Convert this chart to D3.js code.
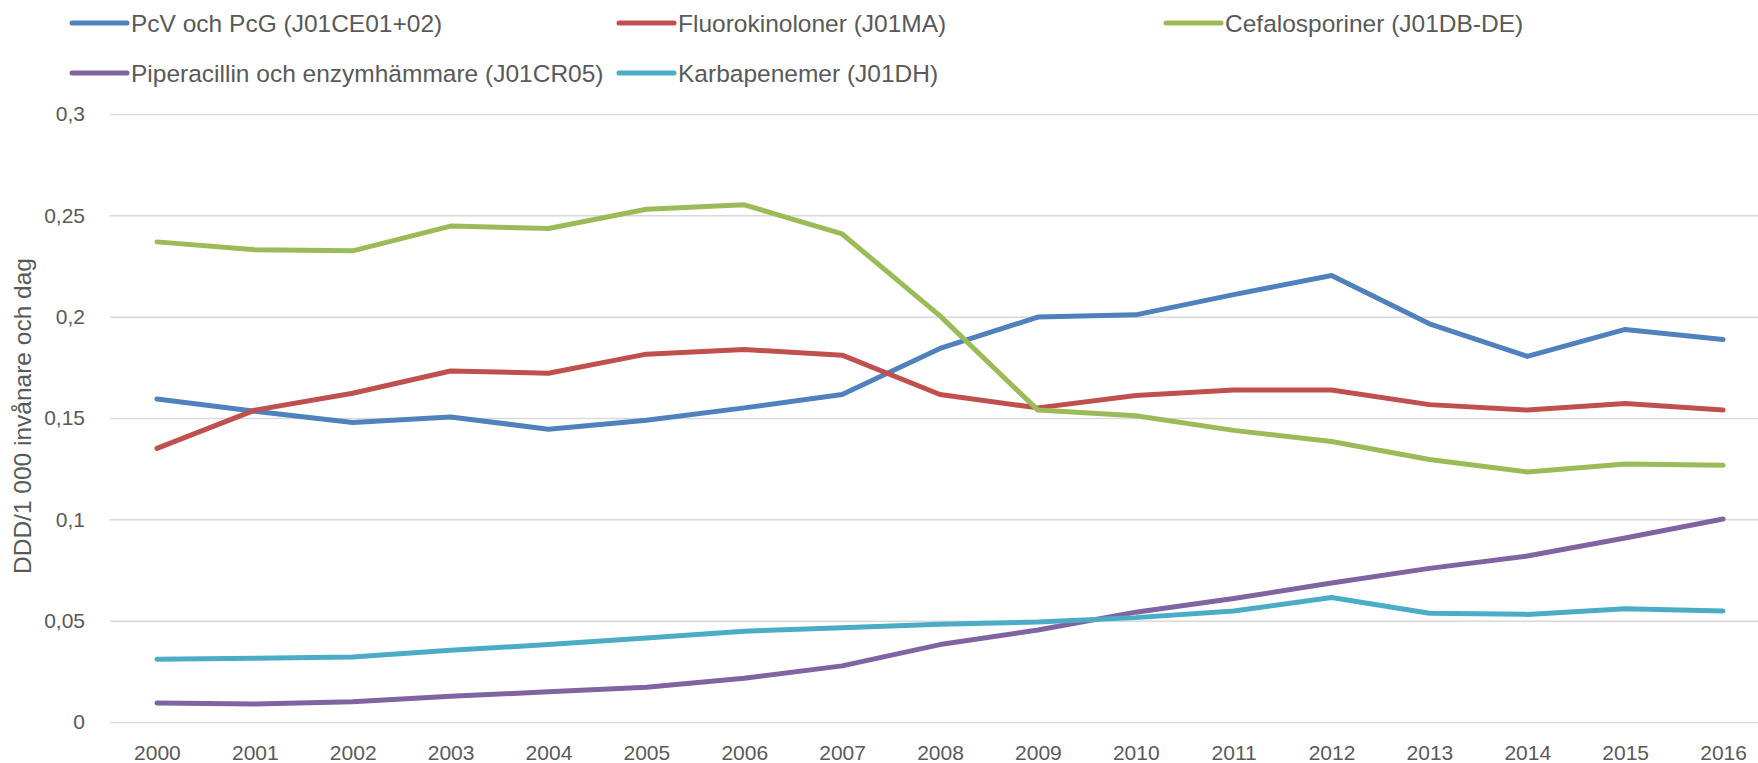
<!DOCTYPE html>
<html>
<head>
<meta charset="utf-8">
<script src="https://cdnjs.cloudflare.com/ajax/libs/d3/7.8.5/d3.min.js"></script>
<style>
  body { margin: 0; background: #fff; }
  svg { display: block; }
</style>
</head>
<body>
<div id="line_chart"></div>
<script>
// data
var years = ["2000","2001","2002","2003","2004","2005","2006","2007","2008","2009","2010","2011","2012","2013","2014","2015","2016"];
var pcv      = [0.1594,0.1533,0.1478,0.1505,0.1445,0.1489,0.1550,0.1616,0.1843,0.1998,0.2009,0.2109,0.2203,0.1965,0.1804,0.1937,0.1887];
var fluoro   = [0.1350,0.1539,0.1622,0.1732,0.1721,0.1815,0.1838,0.1810,0.1616,0.1550,0.1611,0.1638,0.1638,0.1566,0.1539,0.1572,0.1539];
var cefalo   = [0.2369,0.2330,0.2325,0.2447,0.2435,0.2530,0.2552,0.2408,0.2004,0.1539,0.1511,0.1439,0.1384,0.1295,0.1234,0.1273,0.1267];
var pipera   = [0.0094,0.0089,0.0100,0.0127,0.0149,0.0172,0.0216,0.0277,0.0382,0.0454,0.0542,0.0609,0.0686,0.0758,0.0819,0.0908,0.1002];
var karba    = [0.0310,0.0315,0.0321,0.0354,0.0382,0.0415,0.0448,0.0465,0.0482,0.0493,0.0515,0.0548,0.0614,0.0537,0.0531,0.0559,0.0548];
var seriesNames = ["PcV och PcG (J01CE01+02)", "Fluorokinoloner (J01MA)", "Cefalosporiner (J01DB-DE)",
                   "Piperacillin och enzymhämmare (J01CR05)", "Karbapenemer (J01DH)"];
var yTicks = [0, 0.05, 0.1, 0.15, 0.2, 0.25, 0.3];

var colors = ["#4F81BD", "#C0504D", "#9BBB59", "#8064A2", "#4BACC6"];
var allSeries = [pcv, fluoro, cefalo, pipera, karba];

var width = 1758,
    height = 763;

var plotLeft = 108, plotRight = 1772, plotTop = 114, plotBottom = 722;
var textColor = "#595959";
var font = "'Liberation Sans', Arial, sans-serif";

var svLocale = d3.formatLocale({decimal: ",", thousands: " ", grouping: [3], currency: ["", ""]});
var fmt = svLocale.format("~g");

var x = d3.scalePoint().domain(years).range([plotLeft, plotRight]).padding(0.5);
var y = d3.scaleLinear().domain([0, 0.3]).range([plotBottom, plotTop]);

var svg = d3.select('#line_chart')
  .append('svg')
  .attr('width', width)
  .attr('height', height)
  .style('font-family', font);

// gridlines + y labels
var yAxis = d3.axisLeft(y).tickValues(yTicks).tickFormat(fmt)
  .tickSize(-(plotRight - plotLeft)).tickPadding(23);
var gy = svg.append('g')
  .attr('transform', 'translate(' + plotLeft + ',0)')
  .call(yAxis);
gy.select('.domain').remove();
gy.selectAll('.tick line').attr('stroke', '#D9D9D9').attr('stroke-width', 1.5).attr('x1', 2);
gy.selectAll('.tick text').attr('fill', textColor).style('font-size', '21px').style('font-family', font);

// x labels
var xAxis = d3.axisBottom(x).tickSize(0).tickPadding(0);
var gx = svg.append('g')
  .attr('transform', 'translate(0,' + plotBottom + ')')
  .call(xAxis);
gx.select('.domain').remove();
gx.selectAll('.tick text')
  .attr('fill', textColor)
  .attr('dy', null)
  .attr('y', 38)
  .style('font-size', '21px')
  .style('font-family', font);

// axis title
svg.append('text')
  .attr('transform', 'translate(31,416) rotate(-90)')
  .attr('text-anchor', 'middle')
  .attr('fill', textColor)
  .style('font-size', '24.5px')
  .text('DDD/1 000 invånare och dag');

var line = d3.line()
  .x(function(d, i) { return x(years[i]); })
  .y(function(d) { return y(d); });

svg.selectAll('path.series')
  .data(allSeries)
  .enter()
  .append('path')
  .attr('class', 'series')
  .attr('d', line)
  .attr('fill', 'none')
  .attr('stroke', function(d, i) { return colors[i]; })
  .attr('stroke-width', 5)
  .attr('stroke-linejoin', 'round')
  .attr('stroke-linecap', 'round');

// legend, three per row
var legend = svg.selectAll('g.legend')
  .data(seriesNames)
  .enter()
  .append('g')
  .attr('class', 'legend')
  .attr('transform', function(d, i) {
    return 'translate(' + (72 + (i % 3) * 547) + ',' + (23 + Math.floor(i / 3) * 50) + ')';
  });

legend.append('line')
  .attr('x1', 0).attr('x2', 55)
  .attr('stroke', function(d, i) { return colors[i]; })
  .attr('stroke-width', 5)
  .attr('stroke-linecap', 'round');

legend.append('text')
  .attr('x', 59)
  .attr('y', 8.5)
  .attr('fill', textColor)
  .style('font-size', '24.5px')
  .text(function(d) { return d; });
</script>
</body>
</html>
